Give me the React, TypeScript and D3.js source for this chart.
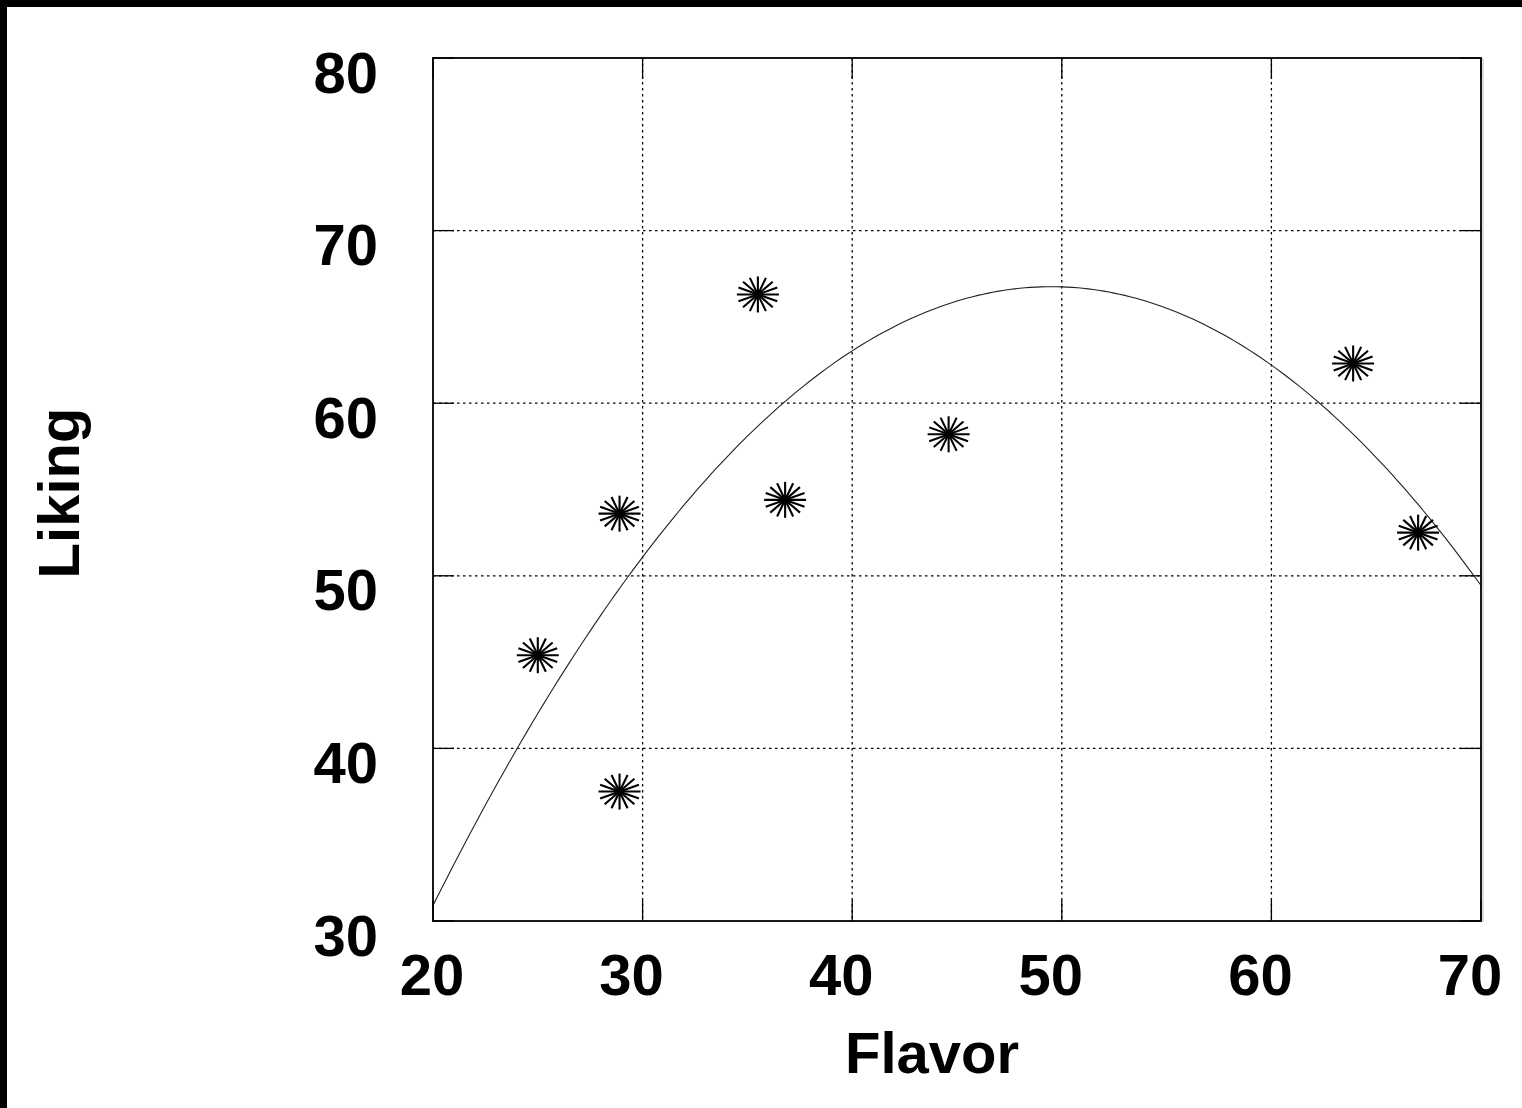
import React from "react";
import * as d3 from "d3";

const flavor = [25.0, 28.9, 28.9, 35.5, 36.8, 44.6, 63.9, 67.0];
const liking = [45.4, 37.5, 53.6, 66.3, 54.4, 58.2, 62.3, 52.5];
const xTicks = [20, 30, 40, 50, 60, 70];
const yTicks = [30, 40, 50, 60, 70, 80];
// quadratic fit: liking = b0 + b1*flavor + b2*flavor^2
const fitCoefficients = [-34.2, 4.0788, -0.0412];

const W = 1522;
const H = 1108;
const left = 433;
const right = 1481;
const top = 58;
const bottom = 921;
const FONT = "'Liberation Sans', Arial, sans-serif";

export default function App() {
  const x = d3.scaleLinear().domain([20, 70]).range([left, right]);
  const y = d3.scaleLinear().domain([30, 80]).range([bottom, top]);

  const curveXs = d3.range(0, 201).map((i) => 20 + (i * 50) / 200);
  const line = d3
    .line<number>()
    .x((d) => x(d))
    .y((d) => y(fitCoefficients[0] + fitCoefficients[1] * d + fitCoefficients[2] * d * d));

  const tickLen = 21;
  const rx = 21;
  const ry = 18;
  const spokes = d3.range(8).map((k) => (k * Math.PI) / 8);

  return (
    <svg
      width={W}
      height={H}
      style={{ position: "absolute", left: 0, top: 0, background: "#fff" }}
    >
      <rect x={0} y={0} width={W} height={H} fill="#fff" />
      <rect x={0} y={0} width={W} height={7} fill="#000" />
      <rect x={0} y={0} width={7} height={H} fill="#000" />

      {/* grid */}
      {xTicks.slice(1, -1).map((t) => (
        <line
          key={"gx" + t}
          x1={x(t)}
          x2={x(t)}
          y1={top}
          y2={bottom}
          stroke="#000"
          strokeWidth={1.3}
          strokeDasharray="2.5,3.5"
        />
      ))}
      {yTicks.slice(1, -1).map((t) => (
        <line
          key={"gy" + t}
          x1={left}
          x2={right}
          y1={y(t)}
          y2={y(t)}
          stroke="#000"
          strokeWidth={1.3}
          strokeDasharray="2.5,3.5"
        />
      ))}

      {/* ticks */}
      {xTicks.map((t) => (
        <g key={"tx" + t}>
          <line x1={x(t)} x2={x(t)} y1={bottom} y2={bottom - tickLen} stroke="#000" strokeWidth={1.3} />
          <line x1={x(t)} x2={x(t)} y1={top} y2={top + tickLen} stroke="#000" strokeWidth={1.3} />
        </g>
      ))}
      {yTicks.map((t) => (
        <g key={"ty" + t}>
          <line x1={left} x2={left + tickLen} y1={y(t)} y2={y(t)} stroke="#000" strokeWidth={1.3} />
          <line x1={right} x2={right - tickLen} y1={y(t)} y2={y(t)} stroke="#000" strokeWidth={1.3} />
        </g>
      ))}

      {/* fitted curve */}
      <path d={line(curveXs) || ""} fill="none" stroke="#222" strokeWidth={1.1} />

      {/* frame */}
      <rect
        x={left}
        y={top}
        width={right - left}
        height={bottom - top}
        fill="none"
        stroke="#000"
        strokeWidth={1.8}
      />
      <line x1={right + 2} x2={right + 2} y1={top} y2={bottom + 1} stroke="#bbb" strokeWidth={1} />

      {/* points */}
      {flavor.map((f, i) => {
        const cx = x(f);
        const cy = y(liking[i]);
        return (
          <g key={"p" + i}>
            {spokes.map((a, k) => (
              <line
                key={k}
                x1={cx - rx * Math.cos(a)}
                y1={cy - ry * Math.sin(a)}
                x2={cx + rx * Math.cos(a)}
                y2={cy + ry * Math.sin(a)}
                stroke="#000"
                strokeWidth={2.1}
              />
            ))}
            <circle cx={cx} cy={cy} r={4.5} fill="#000" />
          </g>
        );
      })}

      {/* x tick labels */}
      {xTicks.map((t) => (
        <text
          key={"lx" + t}
          x={Math.max(x(t) - 11, 432)}
          y={995}
          textAnchor="middle"
          fontFamily={FONT}
          fontWeight="bold"
          fontSize={58}
          fill="#000"
        >
          {t}
        </text>
      ))}
      {/* y tick labels */}
      {yTicks.map((t) => (
        <text
          key={"ly" + t}
          x={378}
          y={y(t) + 34.5}
          textAnchor="end"
          fontFamily={FONT}
          fontWeight="bold"
          fontSize={58}
          fill="#000"
        >
          {t}
        </text>
      ))}

      <text
        x={932}
        y={1073}
        textAnchor="middle"
        fontFamily={FONT}
        fontWeight="bold"
        fontSize={58}
        fill="#000"
      >
        Flavor
      </text>
      <text
        transform="translate(79,493) rotate(-90)"
        textAnchor="middle"
        fontFamily={FONT}
        fontWeight="bold"
        fontSize={58}
        fill="#000"
      >
        Liking
      </text>
    </svg>
  );
}
